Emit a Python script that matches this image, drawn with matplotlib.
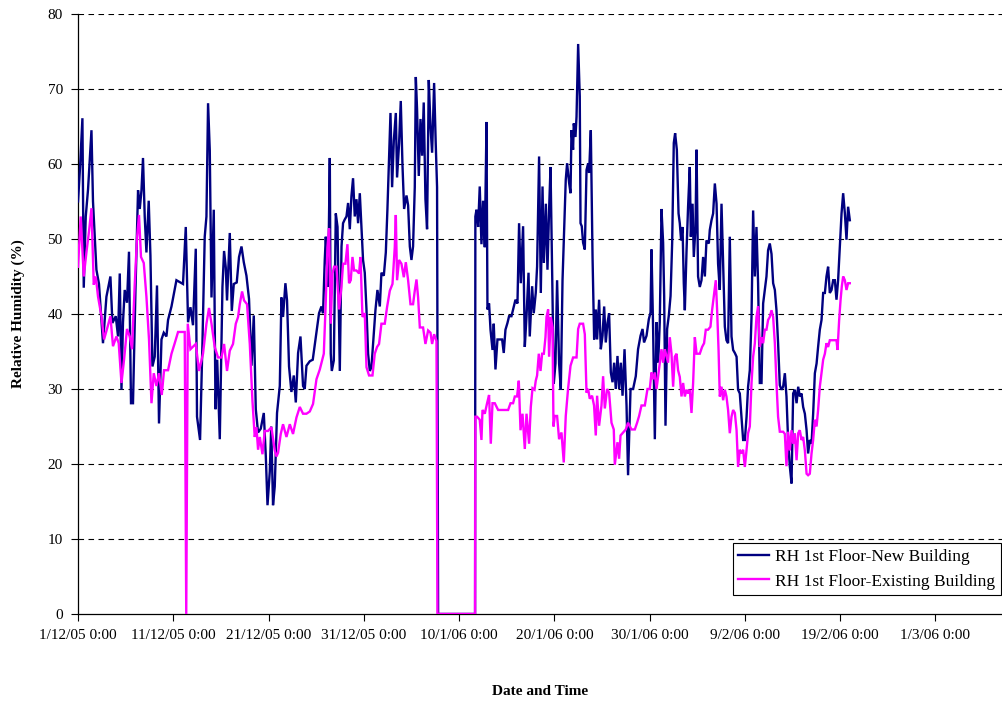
import numpy as np
import pandas as pd
import matplotlib
matplotlib.use("Agg")
import matplotlib.pyplot as plt

START = pd.Timestamp("2005-12-01 00:00")

# RH 1st Floor-New Building: (days since 1/12/05, RH %)
new_days = [
    0.00, 0.23, 0.46, 0.60, 0.81, 1.05, 1.41, 1.57, 1.93, 2.20, 2.62, 2.98, 3.40, 3.61, 3.96,
    4.20, 4.38, 4.56, 4.72, 4.90, 5.14, 5.35, 5.56, 5.77, 6.03, 6.30, 6.48, 6.66, 6.82, 7.00,
    7.18, 7.42, 7.60, 7.81, 8.05, 8.29, 8.50, 8.76, 9.00, 9.28, 9.45, 9.81, 10.33, 11.02, 11.31,
    11.55, 11.80, 12.07, 12.36, 12.49, 12.81, 13.06, 13.30, 13.48, 13.65, 13.83, 14.01, 14.25,
    14.43, 14.61, 14.88, 15.16, 15.33, 15.51, 15.64, 15.93, 16.14, 16.35, 16.66, 16.90, 17.16,
    17.40, 17.68, 17.95, 18.21, 18.45, 18.66, 18.90, 19.18, 19.50, 19.71, 19.89, 20.13, 20.28,
    20.47, 20.65, 20.89, 21.18, 21.35, 21.52, 21.77, 21.94, 22.15, 22.40, 22.65, 22.86, 23.10,
    23.35, 23.62, 23.80, 23.98, 24.33, 24.64, 25.03, 25.30, 25.55, 25.72, 25.90, 26.01, 26.25,
    26.43, 26.53, 26.64, 26.85, 27.06, 27.24, 27.48, 27.66, 27.82, 28.00, 28.18, 28.35, 28.53,
    28.70, 28.87, 29.05, 29.23, 29.40, 29.58, 29.75, 29.92, 30.10, 30.28, 30.45, 30.63, 30.80,
    30.97, 31.22, 31.43, 31.68, 31.85, 32.10, 32.31, 32.48, 32.62, 32.80, 32.97, 33.15, 33.36,
    33.49, 33.70, 33.88, 34.06, 34.23, 34.48, 34.65, 34.83, 35.00, 35.17, 35.35, 35.46, 35.59,
    35.77, 35.95, 36.12, 36.29, 36.47, 36.64, 36.82, 37.00, 37.17, 37.38, 37.55, 37.69, 37.80,
    41.68, 41.71, 41.83, 42.00, 42.17, 42.35, 42.52, 42.70, 42.88, 42.98, 43.15, 43.30, 43.51,
    43.64, 43.82, 44.03, 44.27, 44.52, 44.69, 44.87, 45.08, 45.25, 45.50, 45.67, 45.92, 46.13,
    46.30, 46.48, 46.72, 46.90, 47.08, 47.29, 47.42, 47.67, 47.84, 48.05, 48.19, 48.40, 48.58,
    48.76, 48.90, 49.11, 49.28, 49.45, 49.60, 49.79, 49.94, 50.12, 50.29, 50.50, 50.68, 50.86,
    51.03, 51.20, 51.34, 51.55, 51.70, 51.80, 51.97, 52.04, 52.22, 52.33, 52.50, 52.67, 52.75,
    52.88, 53.02, 53.20, 53.38, 53.55, 53.65, 53.83, 54.01, 54.18, 54.36, 54.49, 54.70, 54.88,
    55.06, 55.23, 55.40, 55.58, 55.75, 55.93, 56.11, 56.28, 56.45, 56.63, 56.80, 56.98, 57.16,
    57.37, 57.58, 57.74, 58.00, 58.27, 58.55, 58.79, 59.05, 59.26, 59.42, 59.68, 59.92, 60.10,
    60.20, 60.37, 60.55, 60.73, 60.90, 61.07, 61.25, 61.42, 61.53, 61.67, 61.84, 62.02, 62.20,
    62.37, 62.54, 62.68, 62.86, 63.04, 63.17, 63.31, 63.46, 63.59, 63.70, 63.88, 64.04, 64.22,
    64.33, 64.51, 64.64, 64.82, 64.93, 65.09, 65.27, 65.45, 65.62, 65.80, 65.97, 66.22, 66.32,
    66.50, 66.67, 66.85, 67.03, 67.19, 67.37, 67.55, 67.72, 67.90, 68.07, 68.24, 68.42, 68.60,
    68.77, 68.95, 69.13, 69.29, 69.47, 69.65, 69.82, 70.00, 70.18, 70.34, 70.52, 70.70, 70.87,
    71.05, 71.22, 71.39, 71.57, 71.75, 71.92, 72.10, 72.27, 72.44, 72.62, 72.80, 72.97, 73.15,
    73.32, 73.49, 73.67, 73.85, 74.02, 74.20, 74.37, 74.54, 74.72, 74.90, 75.07, 75.25, 75.43,
    75.60, 75.77, 75.95, 76.12, 76.30, 76.48, 76.64, 76.82, 77.00, 77.17, 77.35, 77.53, 77.69,
    77.87, 78.05, 78.22, 78.40, 78.57, 78.74, 78.92, 79.10, 79.27, 79.45, 79.62, 79.79, 79.97,
    80.15, 80.32, 80.50, 80.67, 80.84, 81.02,
]
new_rh = [
    55, 60, 66.1, 43.5, 53, 56.6, 64.5, 55, 45.9, 44, 36.1, 42.3, 45, 38.8, 39.7,
    37, 45.4, 29.9, 38.9, 43.2, 41.5, 48.3, 28.1, 28.1, 43.2, 56.5, 54, 56.5, 60.8, 53,
    48.2, 55.1, 47.8, 33, 34.3, 43.8, 25.4, 36.6, 37.5, 37, 39.2, 41, 44.5, 44, 51.6,
    38.9, 40.9, 38.5, 48.7, 26.3, 23.2, 36.1, 50.3, 53, 68.1, 61.8, 42.2, 53.9,
    27.3, 33.9, 23.3, 43.6, 48.4, 46.2, 41.8, 50.8, 40.4, 44, 44.2, 47.6, 49,
    46.9, 45.1, 42, 33.1, 39.8, 27.3, 24.2, 24.7, 26.8, 21.1, 14.5, 19, 25,
    14.5, 17, 26.8, 30.4, 42.2, 39.6, 44.1, 41.8, 33, 29.6, 31.8, 28.2, 34.8,
    37, 30.4, 30, 33.1, 33.7, 33.9, 37.5, 40.1, 41, 40.1, 47.2, 50.3, 43.6,
    60.8, 34.7, 32.4, 33.8, 53.4, 51.6, 32.4, 49, 52.1, 52.6, 53, 54.8, 51.3,
    55.7, 58.1, 53, 55.3, 52.1, 56.1, 51.7, 47.2, 45.5, 40.6, 34.7, 32.4, 32.9,
    36, 40.5, 43.2, 41, 45.5, 45.1, 48.2, 54, 59.8, 66.8, 56.9, 63.1, 66.8,
    58.2, 62.7, 68.4, 59.8, 54, 55.8, 54.5, 49, 47.2, 49, 56.9, 71.6, 67.3,
    58.4, 66, 61.1, 68.2, 55.3, 51.3, 71.2, 65, 61.5, 70.8, 62.7, 56.9, 0,
    0, 53, 53.9, 51.6, 57, 49.3, 55.1, 48.9, 65.6, 40.6, 41.4, 37.9, 35.2,
    38.7, 32.6, 36.6, 36.6, 36.6, 34.8, 37.9, 38.8, 39.7, 39.7, 40.6, 41.9, 41.4,
    52.1, 44.1, 51.7, 35.6, 39.7, 45.5, 37, 43.7, 40.1, 42.8, 46.3, 61, 42.8,
    57, 46.8, 54.7, 45.9, 53.9, 59.6, 44, 30.7, 33.4, 44.5, 33.4, 29.9, 44.5,
    51.2, 57.9, 60.1, 57.5, 56.1, 64.5, 61.9, 65.4, 63.6, 66.3, 76, 69, 52.1,
    51.7, 49.5, 48.6, 59.2, 60.1, 58.8, 64.5, 47.7, 36.6, 40.6, 36.6, 41.9, 35.3,
    37.1, 41, 36.2, 38.8, 40.1, 32.2, 30.9, 33.5, 30, 34.4, 30, 33.5, 29.1,
    35.3, 27.8, 18.5, 30, 30, 31.7, 35.3, 37.1, 38, 36.2, 37.1, 39.3, 40.2,
    48.6, 38, 23.3, 38.9, 33.5, 38.9, 54, 49.5, 42.4, 25.1, 38, 39.8, 42.4,
    49.5, 62.8, 64.1, 61.9, 53.4, 52.1, 49.8, 51.6, 44.1, 40.5, 48.5, 54.3, 59.6,
    50.3, 54.7, 47.6, 51.6, 61.9, 45, 43.6, 44.5, 47.6, 45, 49.8, 49.4, 51.2,
    52.5, 53.4, 57.4, 54.7, 46.7, 43.2, 54.7, 46.7, 38.3, 36.5, 36.1, 50.3, 37,
    35.2, 34.8, 34.3, 29.9, 29.4, 26.3, 23.2, 23.2, 26.3, 30.3, 32.5, 39.6, 53.8,
    45, 51.6, 44.1, 30.8, 30.8, 41.4, 43.2, 45, 48.5, 49.4, 48, 44.1, 43.2,
    40.5, 36.1, 30.5, 29.9, 30.3, 32.1, 29, 23.2, 19.7, 17.4, 29.4, 29.9, 28.1,
    30.3, 29, 29.4, 27.6, 26.7, 24.5, 21.4, 23.2, 22.7, 26.7, 32.1, 33.4, 35.6,
    37.9, 39.2, 42.8, 42.8, 45, 46.3, 42.8, 43.2, 44.5, 44.5, 41.9, 44.5, 49,
    53.4, 56.1, 53.4, 49.9, 54.3, 52.5,
]

# RH 1st Floor-Existing Building
old_days = [
    0.00, 0.28, 0.60, 0.88, 1.15, 1.41, 1.65, 1.86, 2.10, 2.46, 2.73, 3.04, 3.40, 3.67, 4.03,
    4.27, 4.56, 4.83, 5.14, 5.43, 5.67, 5.95, 6.19, 6.40, 6.61, 6.90, 7.18, 7.45, 7.71, 7.95,
    8.23, 8.50, 8.79, 9.03, 9.45, 9.81, 10.15, 10.50, 11.20, 11.36, 11.52, 11.80, 12.04, 12.36,
    12.70, 13.12, 13.48, 13.75, 14.01, 14.35, 14.70, 15.06, 15.33, 15.64, 15.93, 16.27, 16.56,
    16.80, 16.98, 17.22, 17.43, 17.74, 18.03, 18.31, 18.55, 18.73, 18.90, 19.08, 19.36, 19.60,
    19.95, 20.30, 20.65, 20.83, 21.00, 21.28, 21.52, 21.88, 22.23, 22.57, 22.93, 23.28, 23.62,
    23.98, 24.33, 24.67, 25.03, 25.38, 25.80, 26.01, 26.18, 26.35, 26.53, 26.71, 26.88, 27.13,
    27.40, 27.65, 27.82, 28.07, 28.28, 28.45, 28.63, 28.81, 28.98, 29.23, 29.50, 29.65, 29.86,
    30.10, 30.28, 30.55, 30.91, 31.15, 31.39, 31.60, 31.85, 32.20, 32.44, 32.73, 33.01, 33.25,
    33.36, 33.49, 33.70, 33.95, 34.20, 34.41, 34.65, 34.90, 35.17, 35.35, 35.53, 35.70, 35.88,
    36.22, 36.47, 36.75, 37.00, 37.17, 37.38, 37.63, 37.73, 41.68, 41.71, 41.89, 42.17, 42.35,
    42.46, 42.70, 42.94, 43.15, 43.33, 43.51, 43.75, 44.10, 44.45, 44.80, 45.15, 45.40, 45.67,
    45.85, 46.09, 46.27, 46.45, 46.66, 46.90, 47.08, 47.35, 47.53, 47.71, 47.92, 48.05, 48.19,
    48.37, 48.55, 48.72, 48.90, 49.07, 49.18, 49.35, 49.45, 49.63, 49.81, 49.91, 50.05, 50.29,
    50.50, 50.75, 50.99, 51.20, 51.44, 51.70, 51.97, 52.33, 52.50, 52.67, 53.02, 53.20, 53.38,
    53.55, 53.72, 53.96, 54.17, 54.35, 54.49, 54.70, 54.95, 55.12, 55.30, 55.54, 55.75, 56.00,
    56.24, 56.35, 56.63, 56.80, 56.95, 57.22, 57.50, 57.74, 58.10, 58.45, 58.69, 58.90, 59.15,
    59.50, 59.78, 60.02, 60.20, 60.37, 60.55, 60.73, 60.90, 61.07, 61.25, 61.42, 61.60, 61.77,
    61.94, 62.12, 62.30, 62.47, 62.65, 62.83, 62.99, 63.17, 63.35, 63.52, 63.70, 63.88, 64.04,
    64.22, 64.40, 64.57, 64.75, 64.93, 65.27, 65.51, 65.72, 65.90, 66.14, 66.39, 66.56, 66.74,
    66.95, 67.09, 67.24, 67.37, 67.55, 67.72, 67.90, 68.07, 68.24, 68.42, 68.60, 68.77, 68.95,
    69.13, 69.29, 69.47, 69.65, 69.82, 70.00, 70.18, 70.34, 70.52, 70.70, 70.87, 71.05, 71.22,
    71.39, 71.57, 71.75, 71.92, 72.10, 72.27, 72.44, 72.62, 72.80, 72.97, 73.15, 73.32, 73.49,
    73.67, 74.02, 74.20, 74.37, 74.54, 74.72, 74.90, 75.07, 75.25, 75.43, 75.60, 75.77, 75.95,
    76.12, 76.30, 76.48, 76.64, 76.82, 77.00, 77.17, 77.35, 77.53, 77.69, 77.87, 78.05, 78.22,
    78.40, 78.57, 78.74, 78.92, 79.27, 79.62, 79.73, 79.90, 80.05, 80.18, 80.32, 80.50, 80.67,
    80.84, 81.02,
]
old_rh = [
    46.3, 53, 45, 48.2, 51, 54.1, 43.9, 45, 42.3, 39.7, 36.6, 38, 39.7, 35.7, 37,
    36.1, 30.8, 33.9, 38, 37, 35.3, 43.9, 50.1, 53.2, 47.6, 46.8, 42.3, 36.6, 28.1, 32.1,
    30.4, 32.1, 29.2, 32.5, 32.5, 34.7, 36.1, 37.6, 37.6, 0, 38.7, 35.3, 35.6, 36,
    32.4, 34.7, 38.7, 40.8, 38.7, 35.6, 34.2, 34.2, 36, 32.4, 35.1, 36, 38.7,
    39.6, 41.3, 43, 41.8, 41.3, 36, 28.4, 23.6, 24.9, 21.9, 23.6, 21.3, 24.4,
    24.4, 24.9, 21.8, 21, 21.5, 24, 25.3, 23.6, 25.3, 24, 26.2, 27.6, 26.7,
    26.7, 27, 28, 31.3, 32.6, 34.7, 41.8, 48.9, 51.4, 38.7, 45.4, 46.3, 46.3,
    40.6, 43.6, 46.7, 46.7, 49.3, 44.1, 44.5, 47.6, 45.8, 45.8, 45.4, 47.6, 39.6,
    40.1, 32.9, 31.8, 31.8, 34.7, 35.6, 36, 38.7, 38.7, 40.9, 43.1, 44, 48.9,
    53.2, 44.5, 47.2, 46.7, 44.9, 46.9, 44.5, 41.3, 41.3, 43.1, 44.6, 42.2, 38.2,
    38.2, 36, 37.8, 37.5, 36, 37.3, 36.4, 0, 0, 26.3, 26.3, 25.9, 23.2,
    27.2, 26.7, 28.1, 29.2, 22.7, 28.1, 28.1, 27.2, 27.2, 27.2, 27.2, 28.1, 28.1,
    29, 29, 31.1, 24.5, 26.7, 22, 26.7, 22.7, 27.6, 30.1, 29.9, 31.1, 31.8,
    34.7, 32.4, 34.7, 34.7, 36.9, 39.6, 40.6, 34.3, 39.6, 38.2, 25, 26.4, 26.4,
    23.3, 24.2, 20.2, 26.4, 30, 33.1, 34.2, 34.2, 38, 38.7, 38.7, 37.3, 29.5,
    30, 28.7, 29.1, 27.8, 23.8, 29.1, 25.1, 27.8, 31.7, 27.4, 30, 29.5, 25.5,
    24.6, 19.9, 22.9, 20.7, 23.8, 24.2, 24.6, 25.5, 24.6, 24.6, 25.5, 26.4, 27.8,
    27.8, 30, 30, 32.2, 31.3, 32.2, 30, 31.7, 33.5, 35.3, 33.5, 35.3, 34.4,
    33.5, 36.9, 34.7, 30.3, 34.3, 34.7, 32.5, 31.6, 29, 30.8, 29, 29.9, 29.4,
    29.9, 26.8, 30.8, 36.9, 34.7, 34.7, 35.6, 36.1, 37.9, 37.9, 38.3, 40.5, 42.3,
    44.5, 40.5, 35.2, 29, 30.3, 28.5, 29.9, 29, 27.2, 24.1, 26.3, 27.2, 26.8,
    24.5, 19.6, 21.9, 21.4, 21.9, 19.6, 21.9, 24.1, 25, 30.8, 34.3, 36.1, 39.6,
    41, 35.6, 36.9, 36.1, 37.9, 37.9, 39.2, 39.6, 40.5, 39.6, 36.1, 30.8, 26.3,
    24.3, 24.3, 24, 19.7, 24.3, 21.8, 24.5, 22.7, 24.1, 20.5, 24.1, 24.5, 23.2,
    23.6, 21.8, 18.7, 18.5, 18.7, 21.4, 23.2, 25.9, 25, 27.2, 30.3, 32.1, 33.9,
    34.7, 36.1, 35.6, 36.5, 36.5, 36.5, 35.2, 39.2, 41.9, 43.7, 45, 44.5, 43.2,
    44.1, 44.1,
]

tick_days = [0, 10, 20, 30, 40, 50, 60, 70, 80, 90]
tick_labels = ["1/12/05 0:00", "11/12/05 0:00", "21/12/05 0:00", "31/12/05 0:00",
               "10/1/06 0:00", "20/1/06 0:00", "30/1/06 0:00", "9/2/06 0:00",
               "19/2/06 0:00", "1/3/06 0:00"]
y_ticks = [0, 10, 20, 30, 40, 50, 60, 70, 80]

plt.rcParams['font.family'] = ['Liberation Serif', 'DejaVu Serif']

new_t = START + pd.to_timedelta(np.array(new_days), unit="D")
old_t = START + pd.to_timedelta(np.array(old_days), unit="D")
tick_t = START + pd.to_timedelta(np.array(tick_days), unit="D")

fig = plt.figure(figsize=(10.03, 7.02), dpi=100)
ax = fig.add_axes([0.0778, 0.1254, 0.9222, 0.8547])

ax.plot(new_t, new_rh, color='#000080', linewidth=1.7, label='RH 1st Floor-New Building',
        solid_joinstyle='miter', zorder=3)
ax.plot(old_t, old_rh, color='#FF00FF', linewidth=1.7, label='RH 1st Floor-Existing Building',
        solid_joinstyle='miter', zorder=4)

ax.set_ylim(0, 80)
ax.set_xlim(START, START + pd.Timedelta(days=97.1))
ax.set_yticks(y_ticks)
ax.set_yticklabels([str(v) for v in y_ticks], fontsize=11)
ax.set_xticks(tick_t)
ax.set_xticklabels(tick_labels, fontsize=11)
ax.tick_params(axis='both', direction='out', length=5, width=0.8, color='black', pad=6)

for v in y_ticks[1:]:
    ax.axhline(v, color='black', linewidth=0.8, linestyle=(0, (5, 4)), zorder=1)

for side in ['top', 'right']:
    ax.spines[side].set_visible(False)
ax.spines['left'].set_linewidth(0.9)
ax.spines['bottom'].set_linewidth(0.9)

ax.set_xlabel("Date and Time", fontsize=11, fontweight='bold', labelpad=31)
ax.set_ylabel("Relative Humidity (%)", fontsize=11, fontweight='bold', labelpad=16)

leg = ax.legend(loc='lower right', bbox_to_anchor=(0.9975, 0.032), fontsize=12.5,
                frameon=True, fancybox=False, edgecolor='black', framealpha=1,
                handlelength=1.8, borderpad=0.3, labelspacing=0.5, handletextpad=0.35,
                borderaxespad=0)
leg.get_frame().set_linewidth(0.8)

fig.savefig("out.png", dpi=100)
